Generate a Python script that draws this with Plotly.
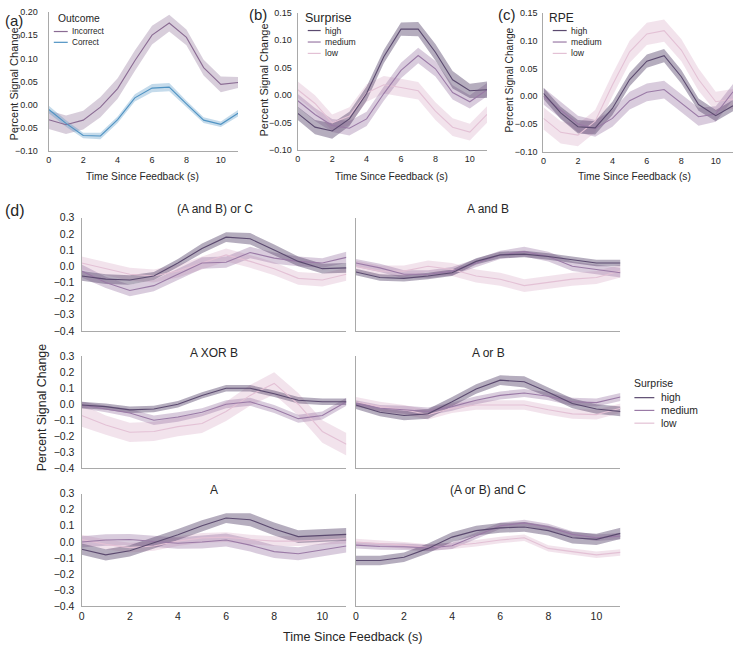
import plotly.graph_objects as go

W, H = 734, 652
FONT = "Liberation Sans, Arial, Helvetica, sans-serif"
TXT = "#262626"
AXC = "#a9a9a9"

# ---------------- data ----------------
time_s = list(range(12))

# (a) Outcome
incorrect_mean = [-0.032, -0.043, -0.033, -0.005, 0.035, 0.095, 0.150, 0.176, 0.145, 0.080, 0.044, 0.048]
incorrect_err = [0.020, 0.020, 0.020, 0.022, 0.022, 0.022, 0.020, 0.018, 0.017, 0.017, 0.017, 0.012]
correct_mean = [-0.010, -0.040, -0.066, -0.067, -0.032, 0.015, 0.036, 0.038, 0.002, -0.033, -0.042, -0.018]
correct_err = [0.008, 0.007, 0.006, 0.007, 0.007, 0.008, 0.009, 0.009, 0.007, 0.006, 0.006, 0.007]

# (b) Surprise
b_high = [-0.033, -0.058, -0.065, -0.043, 0.003, 0.070, 0.120, 0.120, 0.078, 0.028, 0.008, 0.010]
b_high_err = [0.012, 0.013, 0.014, 0.013, 0.013, 0.012, 0.012, 0.013, 0.015, 0.016, 0.013, 0.015]
b_med = [-0.010, -0.035, -0.055, -0.060, -0.043, 0.003, 0.045, 0.072, 0.048, 0.005, -0.012, 0.010]
b_med_err = [0.012, 0.012, 0.012, 0.013, 0.013, 0.013, 0.014, 0.014, 0.014, 0.013, 0.012, 0.012]
b_low = [0.010, -0.015, -0.050, -0.038, 0.004, 0.019, 0.014, 0.008, -0.029, -0.058, -0.067, -0.035]
b_low_err = [0.015, 0.015, 0.015, 0.016, 0.016, 0.016, 0.016, 0.016, 0.016, 0.016, 0.015, 0.015]

# (c) RPE
c_high = [0.005, -0.030, -0.055, -0.057, -0.022, 0.030, 0.063, 0.073, 0.035, -0.015, -0.035, -0.017]
c_high_err = [0.010, 0.011, 0.012, 0.012, 0.012, 0.012, 0.012, 0.012, 0.012, 0.011, 0.010, 0.010]
c_med = [0.000, -0.025, -0.050, -0.058, -0.040, -0.008, 0.007, 0.012, -0.013, -0.037, -0.032, 0.008]
c_med_err = [0.015, 0.015, 0.015, 0.015, 0.015, 0.016, 0.016, 0.016, 0.016, 0.016, 0.014, 0.014]
c_low = [-0.040, -0.065, -0.070, -0.045, 0.020, 0.080, 0.112, 0.118, 0.083, 0.030, -0.010, -0.005]
c_low_err = [0.020, 0.020, 0.020, 0.020, 0.020, 0.020, 0.020, 0.020, 0.020, 0.020, 0.018, 0.018]

# (d) Surprise by rule
d_titles = ["(A and B) or C", "A and B", "A XOR B", "A or B", "A", "(A or B) and C"]

abc_high = [-0.060, -0.080, -0.085, -0.060, 0.020, 0.110, 0.180, 0.170, 0.100, 0.030, -0.015, -0.010]
abc_high_err = [0.030, 0.030, 0.030, 0.025, 0.025, 0.030, 0.030, 0.035, 0.035, 0.030, 0.030, 0.030]
abc_med = [-0.030, -0.100, -0.150, -0.120, -0.050, 0.020, 0.025, 0.085, 0.050, 0.030, 0.020, 0.055]
abc_med_err = [0.040, 0.035, 0.035, 0.035, 0.035, 0.035, 0.035, 0.035, 0.035, 0.030, 0.030, 0.035]
abc_low = [0.020, -0.015, -0.050, -0.060, -0.030, 0.020, 0.070, 0.030, -0.015, -0.075, -0.085, -0.050]
abc_low_err = [0.040, 0.040, 0.040, 0.040, 0.040, 0.040, 0.040, 0.040, 0.040, 0.040, 0.040, 0.040]

ab_high = [-0.036, -0.070, -0.075, -0.060, -0.040, 0.030, 0.070, 0.075, 0.060, 0.040, 0.020, 0.020]
ab_high_err = [0.020, 0.020, 0.020, 0.020, 0.020, 0.020, 0.020, 0.020, 0.020, 0.020, 0.020, 0.020]
ab_med = [0.020, -0.010, -0.050, -0.050, -0.030, 0.020, 0.070, 0.090, 0.060, 0.000, -0.020, -0.040]
ab_med_err = [0.025, 0.025, 0.025, 0.025, 0.025, 0.025, 0.025, 0.030, 0.030, 0.030, 0.030, 0.030]
ab_low = [0.000, -0.030, -0.030, 0.000, -0.020, -0.060, -0.080, -0.120, -0.100, -0.080, -0.070, -0.030]
ab_low_err = [0.035, 0.035, 0.035, 0.035, 0.040, 0.040, 0.040, 0.040, 0.040, 0.040, 0.040, 0.040]

axb_high = [-0.005, -0.015, -0.035, -0.030, 0.000, 0.055, 0.100, 0.100, 0.065, 0.025, 0.015, 0.015]
axb_high_err = [0.020, 0.020, 0.020, 0.020, 0.020, 0.020, 0.020, 0.020, 0.020, 0.020, 0.020, 0.020]
axb_med = [-0.005, -0.030, -0.055, -0.100, -0.080, -0.050, 0.000, 0.015, -0.030, -0.090, -0.070, 0.015]
axb_med_err = [0.020, 0.020, 0.025, 0.030, 0.030, 0.025, 0.025, 0.025, 0.025, 0.025, 0.025, 0.025]
axb_low = [-0.070, -0.130, -0.175, -0.170, -0.140, -0.120, -0.045, 0.055, 0.130, 0.000, -0.170, -0.250]
axb_low_err = [0.070, 0.060, 0.060, 0.060, 0.060, 0.060, 0.060, 0.065, 0.070, 0.070, 0.070, 0.070]

aob_high = [-0.005, -0.050, -0.070, -0.060, 0.015, 0.095, 0.150, 0.140, 0.075, 0.005, -0.030, -0.045]
aob_high_err = [0.025, 0.025, 0.030, 0.030, 0.030, 0.030, 0.030, 0.035, 0.030, 0.030, 0.030, 0.030]
aob_med = [0.005, -0.025, -0.035, -0.045, -0.015, 0.025, 0.055, 0.070, 0.050, 0.015, 0.010, 0.045]
aob_med_err = [0.020, 0.020, 0.025, 0.025, 0.025, 0.025, 0.025, 0.025, 0.025, 0.025, 0.025, 0.025]
aob_low = [0.015, -0.015, -0.035, -0.065, -0.025, -0.005, -0.005, -0.005, -0.035, -0.060, -0.065, -0.025]
aob_low_err = [0.030, 0.030, 0.030, 0.030, 0.030, 0.030, 0.030, 0.030, 0.030, 0.030, 0.030, 0.030]

a_high = [-0.045, -0.080, -0.055, -0.005, 0.045, 0.100, 0.148, 0.138, 0.080, 0.033, 0.040, 0.047]
a_high_err = [0.035, 0.035, 0.035, 0.035, 0.035, 0.035, 0.030, 0.040, 0.040, 0.040, 0.040, 0.040]
a_med = [0.000, 0.012, 0.015, 0.005, -0.008, 0.000, 0.012, -0.020, -0.060, -0.073, -0.050, -0.025]
a_med_err = [0.035, 0.035, 0.035, 0.035, 0.035, 0.040, 0.040, 0.040, 0.040, 0.040, 0.040, 0.040]
a_low = [0.015, -0.015, -0.035, -0.025, 0.005, 0.025, 0.030, 0.015, 0.005, 0.005, 0.012, 0.020]
a_low_err = [0.030, 0.030, 0.030, 0.030, 0.030, 0.030, 0.030, 0.030, 0.030, 0.030, 0.030, 0.030]

aobc_high = [-0.115, -0.115, -0.095, -0.040, 0.030, 0.070, 0.087, 0.093, 0.070, 0.026, 0.016, 0.053]
aobc_high_err = [0.030, 0.030, 0.030, 0.030, 0.030, 0.030, 0.030, 0.030, 0.030, 0.035, 0.035, 0.035]
aobc_med = [-0.020, -0.028, -0.030, -0.037, -0.024, 0.036, 0.100, 0.118, 0.093, 0.047, 0.026, 0.036]
aobc_med_err = [0.020, 0.020, 0.020, 0.020, 0.020, 0.020, 0.020, 0.020, 0.020, 0.020, 0.020, 0.020]
aobc_low = [0.000, -0.008, -0.020, -0.035, -0.024, -0.008, 0.012, 0.026, -0.040, -0.060, -0.080, -0.065]
aobc_low_err = [0.020, 0.020, 0.020, 0.020, 0.020, 0.020, 0.020, 0.020, 0.020, 0.020, 0.020, 0.020]

# tick values
top_xticks = [0, 2, 4, 6, 8, 10]
a_yticks = [-0.10, -0.05, 0.00, 0.05, 0.10, 0.15, 0.20]
bc_yticks = [-0.10, -0.05, 0.00, 0.05, 0.10, 0.15]
d_yticks = [-0.4, -0.3, -0.2, -0.1, 0.0, 0.1, 0.2, 0.3]

# ---------------- styling ----------------
HIGH = "#5b4a6f"
MED = "#9a7aa6"
LOW = "#e3c1d5"
INC = "#8a6b93"
COR = "#4f93c3"


def rgba(hexc, a):
    h = hexc.lstrip("#")
    r, g, b = int(h[0:2], 16), int(h[2:4], 16), int(h[4:6], 16)
    return f"rgba({r},{g},{b},{a})"


def fx(px):
    return px / W


def fy(py):
    return 1 - py / H


def fmt(v, nd):
    s = f"{abs(v):.{nd}f}"
    return ("\u2212" + s) if v < -1e-12 else s


panels = [
    dict(x=(46, 236), y=(6, 148), yr=(-0.10, 0.20), yt=a_yticks, nd=2, xl=True, yl=True,
         tf=9, so=8,
         series=[(incorrect_mean, incorrect_err, INC, 0.33), (correct_mean, correct_err, COR, 0.33)]),
    dict(x=(296, 486), y=(6.7, 147), yr=(-0.10, 0.15), yt=bc_yticks, nd=2, xl=True, yl=True,
         tf=9, so=3,
         series=[(b_low, b_low_err, LOW, 0.45), (b_med, b_med_err, MED, 0.38), (b_high, b_high_err, HIGH, 0.45)]),
    dict(x=(542.7, 733), y=(7, 148.5), yr=(-0.10, 0.15), yt=bc_yticks, nd=2, xl=True, yl=True,
         tf=9, so=3,
         series=[(c_low, c_low_err, LOW, 0.45), (c_med, c_med_err, MED, 0.38), (c_high, c_high_err, HIGH, 0.45)]),
]

d_rows = [(215.7, 331), (356.7, 471), (496.7, 611.7)]
d_cols = [(79, 344.8), (354.3, 620)]
d_series = [
    [(abc_low, abc_low_err), (abc_med, abc_med_err), (abc_high, abc_high_err)],
    [(ab_low, ab_low_err), (ab_med, ab_med_err), (ab_high, ab_high_err)],
    [(axb_low, axb_low_err), (axb_med, axb_med_err), (axb_high, axb_high_err)],
    [(aob_low, aob_low_err), (aob_med, aob_med_err), (aob_high, aob_high_err)],
    [(a_low, a_low_err), (a_med, a_med_err), (a_high, a_high_err)],
    [(aobc_low, aobc_low_err), (aobc_med, aobc_med_err), (aobc_high, aobc_high_err)],
]
for k in range(6):
    r, c = divmod(k, 2)
    (l_m, l_e), (m_m, m_e), (h_m, h_e) = d_series[k]
    panels.append(dict(x=d_cols[c], y=d_rows[r], yr=(-0.4, 0.3), yt=d_yticks, nd=1,
                       xl=(r == 2), yl=(c == 0), tf=10.5, so=4,
                       series=[(l_m, l_e, LOW, 0.45), (m_m, m_e, MED, 0.38), (h_m, h_e, HIGH, 0.45)]))

fig = go.Figure()
layout = {}
for i, p in enumerate(panels):
    n = "" if i == 0 else str(i + 1)
    xa, ya = "x" + n, "y" + n
    for mean, err, col, alpha in p["series"]:
        up = [m + e for m, e in zip(mean, err)]
        lo = [m - e for m, e in zip(mean, err)]
        fig.add_trace(go.Scatter(x=time_s + time_s[::-1], y=up + lo[::-1], fill="toself",
                                 fillcolor=rgba(col, alpha), line=dict(width=0),
                                 mode="lines", hoverinfo="skip", showlegend=False,
                                 xaxis=xa, yaxis=ya))
    for mean, err, col, alpha in p["series"]:
        fig.add_trace(go.Scatter(x=time_s, y=mean, mode="lines", line=dict(color=col, width=1.1),
                                 showlegend=False, xaxis=xa, yaxis=ya))
    layout["xaxis" + n] = dict(domain=[fx(p["x"][0]), fx(p["x"][1])], range=[0, 11],
                               anchor=ya, showline=True, linecolor=AXC, linewidth=1.3,
                               showgrid=False, zeroline=False, ticks="",
                               tickvals=top_xticks, ticktext=[str(v) for v in top_xticks],
                               showticklabels=p["xl"],
                               tickfont=dict(family=FONT, size=p["tf"], color=TXT))
    layout["yaxis" + n] = dict(domain=[fy(p["y"][1]), fy(p["y"][0])], range=list(p["yr"]),
                               anchor=xa, showline=True, linecolor=AXC, linewidth=1.3,
                               showgrid=False, zeroline=False, ticks="",
                               tickvals=p["yt"], ticktext=[fmt(v, p["nd"]) for v in p["yt"]],
                               showticklabels=p["yl"], ticklabelstandoff=p["so"],
                               tickfont=dict(family=FONT, size=p["tf"], color=TXT))

ann = []


def text(s, px, py, size, xanchor="center", angle=0):
    ann.append(dict(text=s, x=fx(px), y=fy(py), xref="paper", yref="paper", showarrow=False,
                    xanchor=xanchor, yanchor="middle", textangle=angle,
                    font=dict(family=FONT, size=size, color=TXT)))


# panel labels
text("(a)", 0, 15, 15, "left")
text("(b)", 245, 9, 15, "left")
text("(c)", 495, 9, 15, "left")
text("(d)", 0, 208, 16, "left")

# axis titles top row
text("Time Since Feedback (s)", 140, 174, 10.2)
text("Time Since Feedback (s)", 390, 174, 10.2)
text("Time Since Feedback (s)", 634, 174, 10.2)
text("Percent Signal Change", 11, 79, 11, angle=-90)
text("Percent Signal Change", 262, 75, 11, angle=-90)
text("Percent Signal Change", 509, 75, 10.2, angle=-90)

# (d) titles and labels
title_pos = [(213, 207), (487, 207), (212, 353), (487, 353), (212, 493), (487, 493)]
for s, (px, py) in zip(d_titles, title_pos):
    text(s, px, py, 12)
text("Time Since Feedback (s)", 351, 643, 12.6)
text("Percent Signal Change", 40, 409, 12.4, angle=-90)

# legends (drawn as key lines + labels)
shapes = []


def legend(title, tsize, tx, ty, entries, x0, x1, tlx, ys, isize):
    text(title, tx, ty, tsize, "left")
    for (lab, col), yy in zip(entries, ys):
        shapes.append(dict(type="line", xref="paper", yref="paper", x0=fx(x0), x1=fx(x1),
                           y0=fy(yy), y1=fy(yy), line=dict(color=col, width=1.2)))
        text(lab, tlx, yy, isize, "left")


surprise_entries = [("high", HIGH), ("medium", MED), ("low", LOW)]
legend("Outcome", 10.3, 53, 13, [("Incorrect", INC), ("Correct", COR)], 51, 65, 67, [26, 37], 8.2)
legend("Surprise", 12.5, 301, 12, surprise_entries, 306, 319, 321, [25, 36.7, 48.3], 8.6)
legend("RPE", 12, 546, 12, surprise_entries, 552, 566, 568, [25, 36.7, 48.3], 8.6)
legend("Surprise", 10.5, 632, 384, surprise_entries, 634, 654, 659, [399, 412, 425], 10.4)

fig.update_layout(width=W, height=H, autosize=False, margin=dict(l=0, r=0, t=0, b=0),
                  paper_bgcolor="white", plot_bgcolor="white", showlegend=False,
                  annotations=ann, shapes=shapes, **layout)
fig.write_html("out.html", config={"displayModeBar": False},
               post_script="document.body.style.margin='0';document.body.style.overflow='hidden';")
